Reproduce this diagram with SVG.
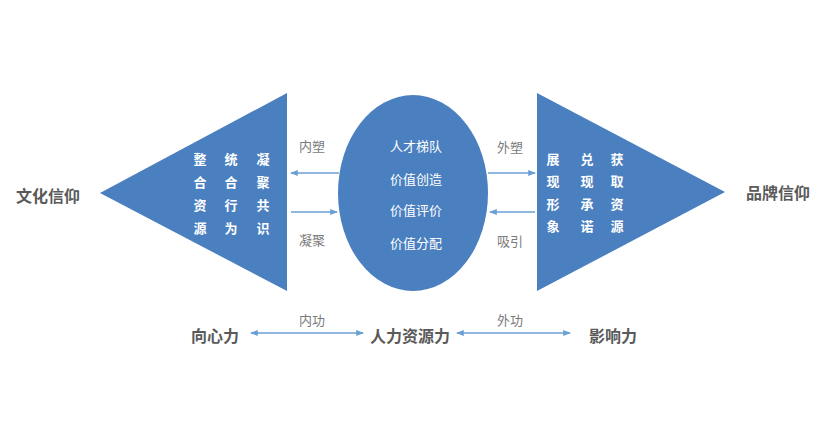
<svg xmlns="http://www.w3.org/2000/svg" width="822" height="432" viewBox="0 0 822 432">
<style>
.shape{fill:#4a7fc0;}
.in{font-family:"Noto Sans CJK SC","Noto Sans",sans-serif;font-size:13px;fill:#ffffff;text-anchor:middle;dominant-baseline:central;}
.tri{font-weight:bold;}
.lbl{font-family:"Noto Sans CJK SC","Noto Sans",sans-serif;font-size:13px;fill:#7a7a7a;text-anchor:middle;dominant-baseline:central;}
.big{font-family:"Noto Sans CJK SC","Noto Sans",sans-serif;font-size:16px;font-weight:bold;fill:#5a5a5a;text-anchor:middle;dominant-baseline:central;}
.conn{stroke:#6a9fd4;stroke-width:1.3;fill:none;}
</style>
<defs>
<marker id="ah" viewBox="0 0 8 8" refX="7" refY="4" markerWidth="6" markerHeight="6" orient="auto-start-reverse">
<path d="M0,1 L8,4 L0,7 Z" fill="#6a9fd4"/>
</marker>
</defs>
<rect width="822" height="432" fill="#ffffff"/>
<g id="left-label"><text class="big" x="48" y="195">文化信仰</text></g>
<g id="left-triangle">
<polygon class="shape" points="100,193 287,93 287,291"/>
<text class="in tri" x="200" y="158">整</text><text class="in tri" x="200" y="181">合</text><text class="in tri" x="200" y="204">资</text><text class="in tri" x="200" y="227">源</text>
<text class="in tri" x="231" y="158">统</text><text class="in tri" x="231" y="181">合</text><text class="in tri" x="231" y="204">行</text><text class="in tri" x="231" y="227">为</text>
<text class="in tri" x="263" y="158">凝</text><text class="in tri" x="263" y="181">聚</text><text class="in tri" x="263" y="204">共</text><text class="in tri" x="263" y="227">识</text>
</g>
<g id="center-ellipse">
<ellipse class="shape" cx="413" cy="193" rx="75" ry="98"/>
<text class="in" x="416" y="145">人才梯队</text>
<text class="in" x="416" y="178">价值创造</text>
<text class="in" x="416" y="209">价值评价</text>
<text class="in" x="416" y="242">价值分配</text>
</g>
<g id="right-triangle">
<polygon class="shape" points="537,93 537,291 725,192"/>
<text class="in tri" x="553" y="158">展</text><text class="in tri" x="553" y="180">现</text><text class="in tri" x="553" y="203">形</text><text class="in tri" x="553" y="225">象</text>
<text class="in tri" x="587" y="158">兑</text><text class="in tri" x="587" y="180">现</text><text class="in tri" x="587" y="203">承</text><text class="in tri" x="587" y="225">诺</text>
<text class="in tri" x="617" y="158">获</text><text class="in tri" x="617" y="180">取</text><text class="in tri" x="617" y="203">资</text><text class="in tri" x="617" y="225">源</text>
</g>
<g id="right-label"><text class="big" x="778" y="192">品牌信仰</text></g>
<g id="bottom-left"><text class="big" x="215" y="335">向心力</text></g>
<g id="bottom-center"><text class="big" x="410" y="335">人力资源力</text></g>
<g id="bottom-right"><text class="big" x="613" y="335">影响力</text></g>
<g id="connectors">
<line class="conn" x1="339" y1="173" x2="291" y2="173" marker-end="url(#ah)"/>
<line class="conn" x1="291" y1="212" x2="337" y2="212" marker-end="url(#ah)"/>
<line class="conn" x1="488" y1="173" x2="535" y2="173" marker-end="url(#ah)"/>
<line class="conn" x1="535" y1="212" x2="490" y2="212" marker-end="url(#ah)"/>
<line class="conn" x1="251" y1="333" x2="363" y2="333" marker-start="url(#ah)" marker-end="url(#ah)"/>
<line class="conn" x1="457" y1="333" x2="570" y2="333" marker-start="url(#ah)" marker-end="url(#ah)"/>
<text class="lbl" x="312" y="145">内塑</text>
<text class="lbl" x="312" y="239">凝聚</text>
<text class="lbl" x="510" y="146">外塑</text>
<text class="lbl" x="510" y="240">吸引</text>
<text class="lbl" x="312" y="319">内功</text>
<text class="lbl" x="510" y="319">外功</text>
</g>
</svg>
